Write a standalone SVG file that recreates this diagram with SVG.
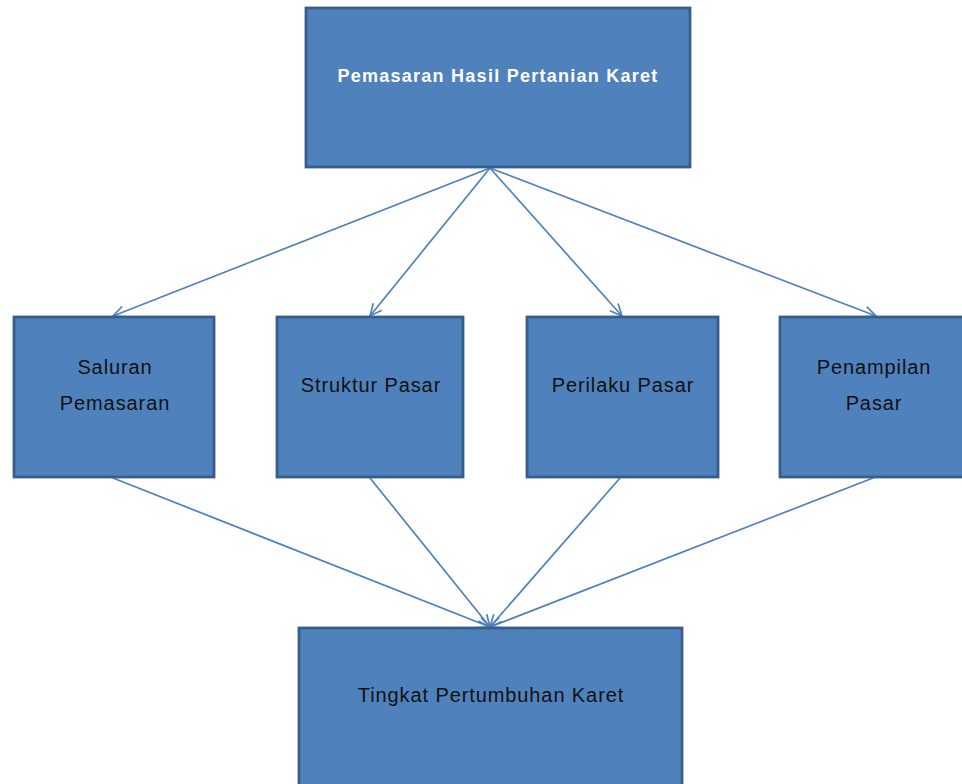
<svg xmlns="http://www.w3.org/2000/svg" width="962" height="784" viewBox="0 0 962 784">
<style>
.box{fill:#4F81BD;stroke:#385D8A;stroke-width:2.8}
.t{font-family:"Liberation Sans",Arial,sans-serif;font-size:20px;letter-spacing:0.9px;fill:#111;text-anchor:middle}
.tb{font-family:"Liberation Sans",Arial,sans-serif;font-size:18px;font-weight:bold;letter-spacing:1.25px;fill:#fff;text-anchor:middle}
.c{stroke:#4F81BD;stroke-width:1.7;fill:none;marker-end:url(#a)}
</style>
<defs>
<marker id="a" viewBox="0 0 14 14" refX="13" refY="7" markerWidth="14" markerHeight="14" markerUnits="userSpaceOnUse" orient="auto">
<path d="M1,1.5 L13,7 L1,12.5" fill="none" stroke="#4F81BD" stroke-width="1.7"/>
</marker>
</defs>
<rect width="962" height="784" fill="#fff"/>
<g id="connectors">
<line class="c" x1="490" y1="168" x2="113" y2="316"/>
<line class="c" x1="490" y1="168" x2="370" y2="316"/>
<line class="c" x1="490" y1="168" x2="622" y2="316"/>
<line class="c" x1="490" y1="168" x2="876" y2="316"/>
<line class="c" x1="113" y1="478" x2="490" y2="627"/>
<line class="c" x1="370" y1="478" x2="490" y2="627"/>
<line class="c" x1="620" y1="478" x2="490" y2="627"/>
<line class="c" x1="873" y1="478" x2="490" y2="627"/>
</g>
<g id="n-top">
<rect class="box" x="306" y="8" width="384" height="159"/>
<text class="tb" x="498" y="82">Pemasaran Hasil Pertanian Karet</text>
</g>
<g id="n-saluran">
<rect class="box" x="14" y="317" width="200" height="160"/>
<text class="t" x="115" y="374">Saluran</text>
<text class="t" x="115" y="410">Pemasaran</text>
</g>
<g id="n-struktur">
<rect class="box" x="277" y="317" width="186" height="160"/>
<text class="t" x="371" y="392">Struktur Pasar</text>
</g>
<g id="n-perilaku">
<rect class="box" x="527" y="317" width="191" height="160"/>
<text class="t" x="623" y="392">Perilaku Pasar</text>
</g>
<g id="n-penampilan">
<rect class="box" x="780" y="317" width="190" height="160"/>
<text class="t" x="874" y="374">Penampilan</text>
<text class="t" x="874" y="410">Pasar</text>
</g>
<g id="n-tingkat">
<rect class="box" x="299" y="628" width="383" height="170"/>
<text class="t" x="491" y="702">Tingkat Pertumbuhan Karet</text>
</g>
</svg>
